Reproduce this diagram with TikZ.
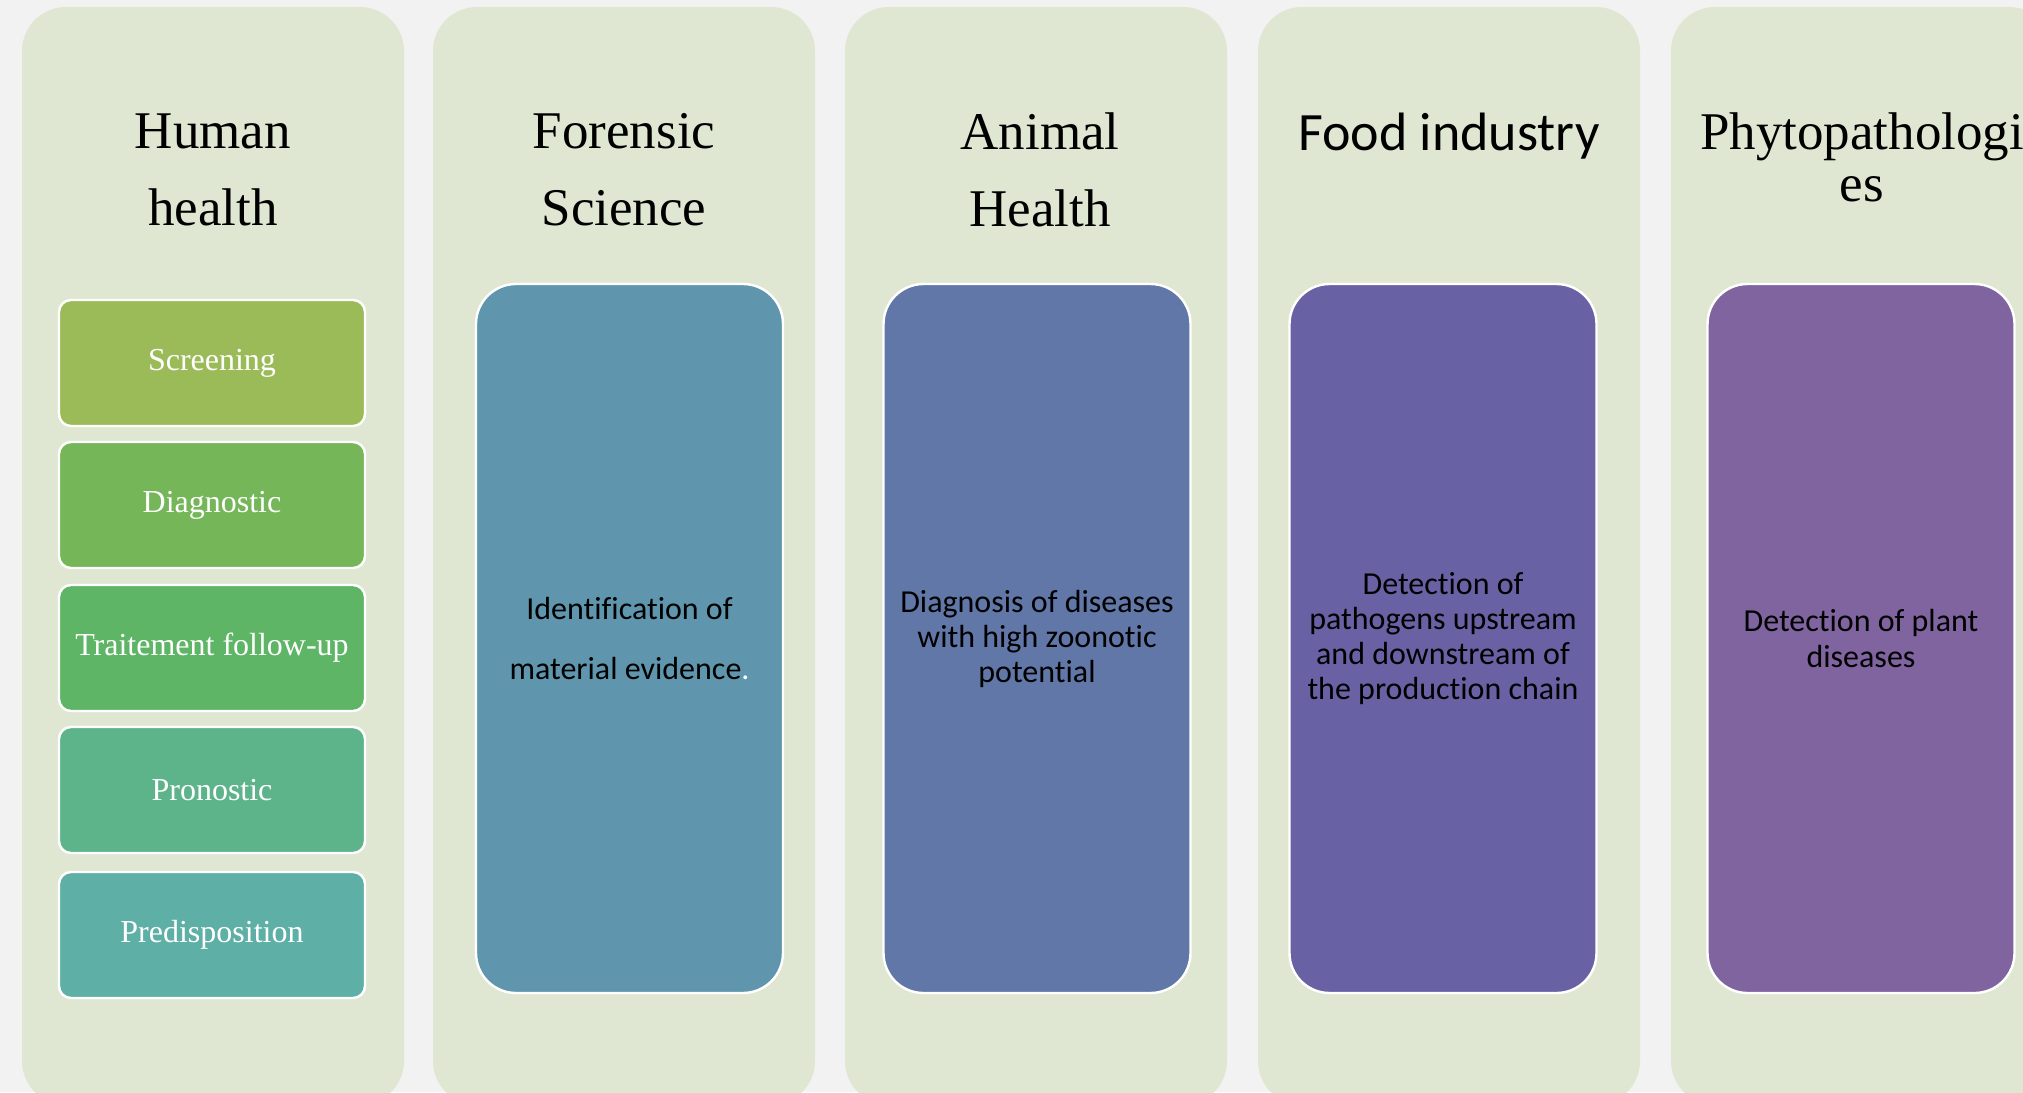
\documentclass[tikz,border=0pt]{standalone}
\usepackage{fontspec}
\setmainfont{Liberation Serif}
\newfontfamily\calfont[Ligatures=NoCommon]{Carlito}
\definecolor{pagebg}{HTML}{F2F2F2}
\definecolor{colbg}{HTML}{DFE7D2}
\definecolor{cScreen}{HTML}{9BBB59}
\definecolor{cDiag}{HTML}{74B658}
\definecolor{cTrait}{HTML}{5DB565}
\definecolor{cPron}{HTML}{5DB38A}
\definecolor{cPred}{HTML}{5EAFA6}
\definecolor{cFor}{HTML}{5F96AD}
\definecolor{cAni}{HTML}{6077A8}
\definecolor{cFood}{HTML}{6862A4}
\definecolor{cPhy}{HTML}{7F64A0}
\begin{document}
\begin{tikzpicture}[x=0.5pt,y=-0.5pt,
  colbox/.style={fill=colbg, rounded corners=22pt, minimum width=191pt, minimum height=549pt, inner sep=0pt},
  subbox/.style={fill=#1, draw=white, line width=1.2pt, rounded corners=6pt, minimum width=153pt, minimum height=63pt, inner sep=0pt, text=white, font=\fontsize{16}{19}\selectfont},
  bigbox/.style={fill=#1, draw=white, line width=1.2pt, rounded corners=20pt, minimum width=153.5pt, minimum height=354.5pt, inner sep=0pt, align=center, font=\calfont\fontsize{16}{17.5}\selectfont},
  ttl/.style={align=center, inner sep=0pt, font=\fontsize{26.5}{38.5}\selectfont},
]
\useasboundingbox (0,0) rectangle (2023,1092);
\clip (0,0) rectangle (2023,1092);
\fill[pagebg] (0,0) rectangle (2023,1092);

% columns
\node[colbox] (col1) at (213,556) {};
\node[colbox] (col2) at (624,556) {};
\node[colbox] (col3) at (1036,556) {};
\node[colbox] (col4) at (1449,556) {};
\node[colbox] (col5) at (1862,556) {};

% titles
\node[ttl] (t1) at (213,170) {Human\\health};
\node[ttl] (t2) at (624,170) {Forensic\\Science};
\node[ttl] (t3) at (1040,170) {Animal\\Health};
\node[ttl, font=\calfont\fontsize{27}{30}\selectfont] (t4) at (1449,136) {Food industry};
\node[ttl, font=\fontsize{26.5}{26}\selectfont] (t5) at (1862,157) {Phytopathologi\\es};

% human health sub boxes
\node[subbox=cScreen] (s1) at (212,363) {Screening};
\node[subbox=cDiag] (s2) at (212,505) {Diagnostic};
\node[subbox=cTrait] (s3) at (212,648) {Traitement follow-up};
\node[subbox=cPron] (s4) at (212,790) {Pronostic};
\node[subbox=cPred] (s5) at (212,935) {Predisposition};

% big boxes
\node[bigbox=cFor, font=\calfont\fontsize{16}{30}\selectfont] (b2) at (629.5,638.5) {Identification of\\material evidence{\color{white}.}};
\node[bigbox=cAni] (b3) at (1037,638.5) {Diagnosis of diseases\\with high zoonotic\\potential};
\node[bigbox=cFood] (b4) at (1443,638.5) {Detection of\\pathogens upstream\\and downstream of\\the production chain};
\node[bigbox=cPhy] (b5) at (1861,638.5) {Detection of plant\\diseases};
\end{tikzpicture}
\end{document}
